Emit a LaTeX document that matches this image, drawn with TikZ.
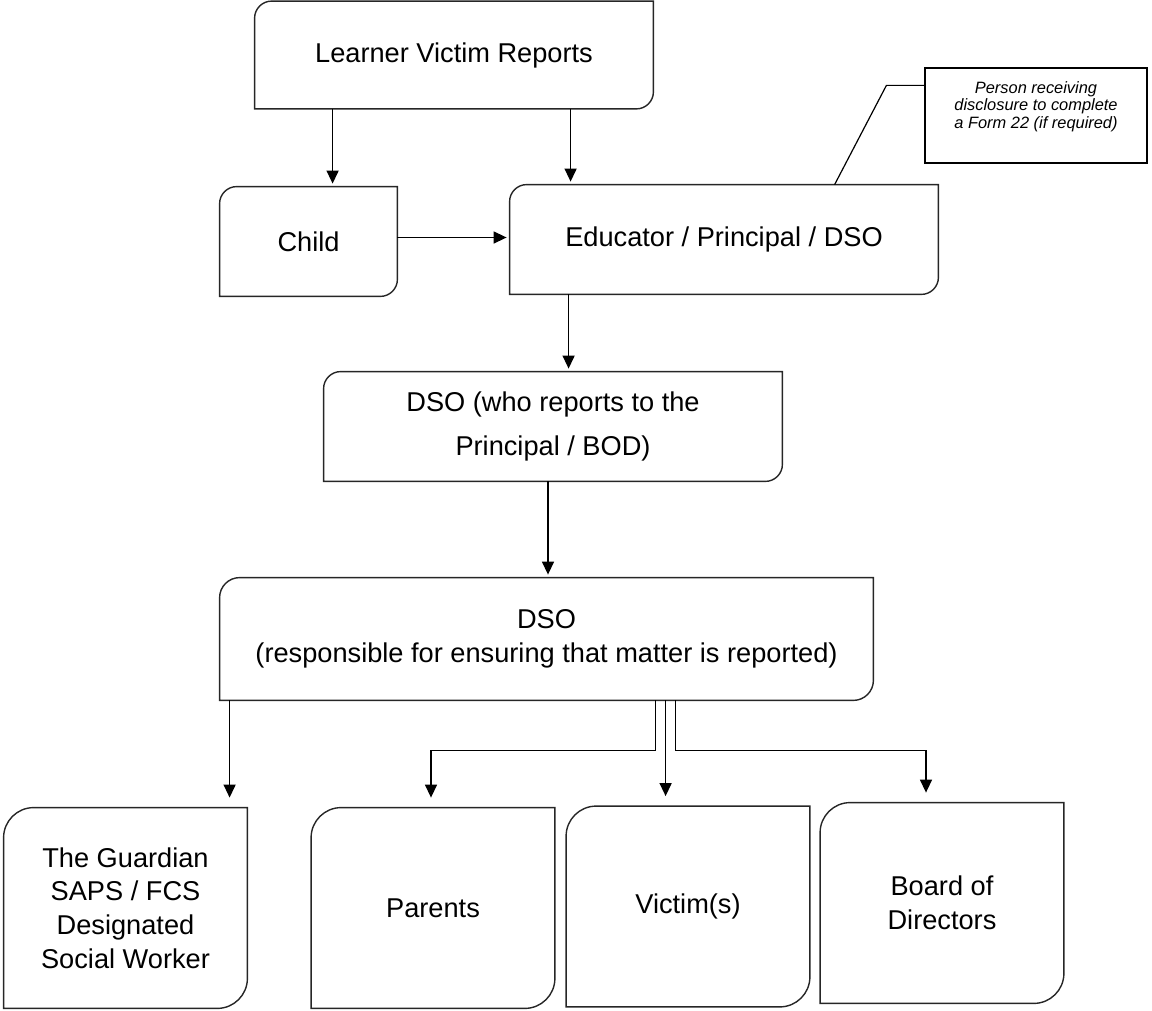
\documentclass[tikz,border=0pt]{standalone}
\usepackage{fontspec}
\setmainfont{Liberation Sans}
\usepackage{tikz}
\usetikzlibrary{arrows.meta,positioning,calc}
\tikzset{
  flowarrow/.style={-{Triangle[length=6.5pt,width=6pt]}, line width=0.7pt, draw=black, shorten >=1.5pt},
  droparrow/.style={flowarrow, shorten >=5pt},
  noteline/.style={line width=0.6pt, draw=black},
  frame/.style={line width=0.7pt, draw=black!85},
  block/.style={align=center, inner sep=2pt, font=\fontsize{13.6}{16.8}\selectfont},
  leaf/.style={block, minimum width=121.5pt, minimum height=100pt},
  notebox/.style={draw=black, line width=0.6pt, align=center, inner sep=2pt,
    minimum width=111pt, minimum height=47.5pt, font=\fontsize{8.2}{8.6}\selectfont\itshape}
}
% outline with round top-left and bottom-right corners
\newcommand{\diagframe}[2]{%
  \draw[frame] (#1.south west)
    -- ([yshift=-#2]#1.north west)
    .. controls ([yshift=-0.45*#2]#1.north west) and ([xshift=0.45*#2]#1.north west) .. ([xshift=#2]#1.north west)
    -- (#1.north east)
    -- ([yshift=#2]#1.south east)
    .. controls ([yshift=0.45*#2]#1.south east) and ([xshift=-0.45*#2]#1.south east) .. ([xshift=-#2]#1.south east)
    -- cycle;}

\begin{document}
\begin{tikzpicture}[x=0.5pt, y=-0.5pt]
  \useasboundingbox (0,0) rectangle (1152,1011);
  \node[block, minimum width=199pt, minimum height=53.5pt] (lvr) at (454,55) {Learner Victim Reports};
  \node[block, minimum width=88.5pt, minimum height=54.5pt] (child) at (308.5,241.5) {Child};
  \node[block, minimum width=214pt, minimum height=54.5pt] (edu) at (724,239.5) {Educator / Principal / DSO};
  \node[notebox] (note) at (1036,115.5) {Person receiving\\disclosure to complete\\a Form 22 (if required)\\[2pt]};
  \node[block, minimum width=229pt, minimum height=54.5pt] (dsoa) at (553,426.5) {DSO (who reports to the\\[5pt]Principal / BOD)};
  \node[block, minimum width=326.5pt, minimum height=61pt] (dsob) at (546.5,639) {DSO\\(responsible for ensuring that matter is reported)};
  \node[leaf] (guard) at (125.5,908) {The Guardian\\SAPS / FCS\\Designated\\Social Worker};
  \node[leaf] (parents) at (433,908) {Parents};
  \node[leaf] (victim) at (688,906.5) {Victim(s)};
  \node[leaf] (board) at (942,903) {Board of\\Directors};

  \foreach \n/\r in {lvr/8.5pt, child/8.5pt, edu/8.5pt, dsoa/8.5pt, dsob/10pt,
      guard/15pt, parents/15pt, victim/15pt, board/15pt}
    {\diagframe{\n}{\r}}

  \draw[flowarrow] ([xshift=39pt]lvr.south west) -- ([xshift=39pt]lvr.south west |- child.north);
  \draw[flowarrow] ([xshift=158pt]lvr.south west) -- ([xshift=158pt]lvr.south west |- edu.north);
  \draw[flowarrow] ([yshift=2pt]child.east) -- ([yshift=2pt]edu.west |- child.east);
  \draw[flowarrow] ([xshift=29.5pt]edu.south west) -- ([xshift=29.5pt]edu.south west |- dsoa.north);
  \draw[flowarrow] ([xshift=-2.5pt]dsoa.south) -- ([xshift=-2.5pt]dsoa.south |- dsob.north);
  \draw[noteline] ([yshift=-9pt]note.north west) -- ++(-38,0) -- ([xshift=162.5pt]edu.north west);

  \draw[droparrow] ([xshift=5pt]dsob.south west) -- ([xshift=5pt]dsob.south west |- guard.north);
  \draw[droparrow] ([xshift=218pt]dsob.south west) -- ++(0,50) -| ([xshift=-1pt]parents.north);
  \draw[droparrow] ([xshift=223pt]dsob.south west) -- ([xshift=223pt]dsob.south west |- victim.north);
  \draw[droparrow] ([xshift=228pt]dsob.south west) -- ++(0,50) -| ([xshift=-8pt]board.north);
\end{tikzpicture}
\end{document}
